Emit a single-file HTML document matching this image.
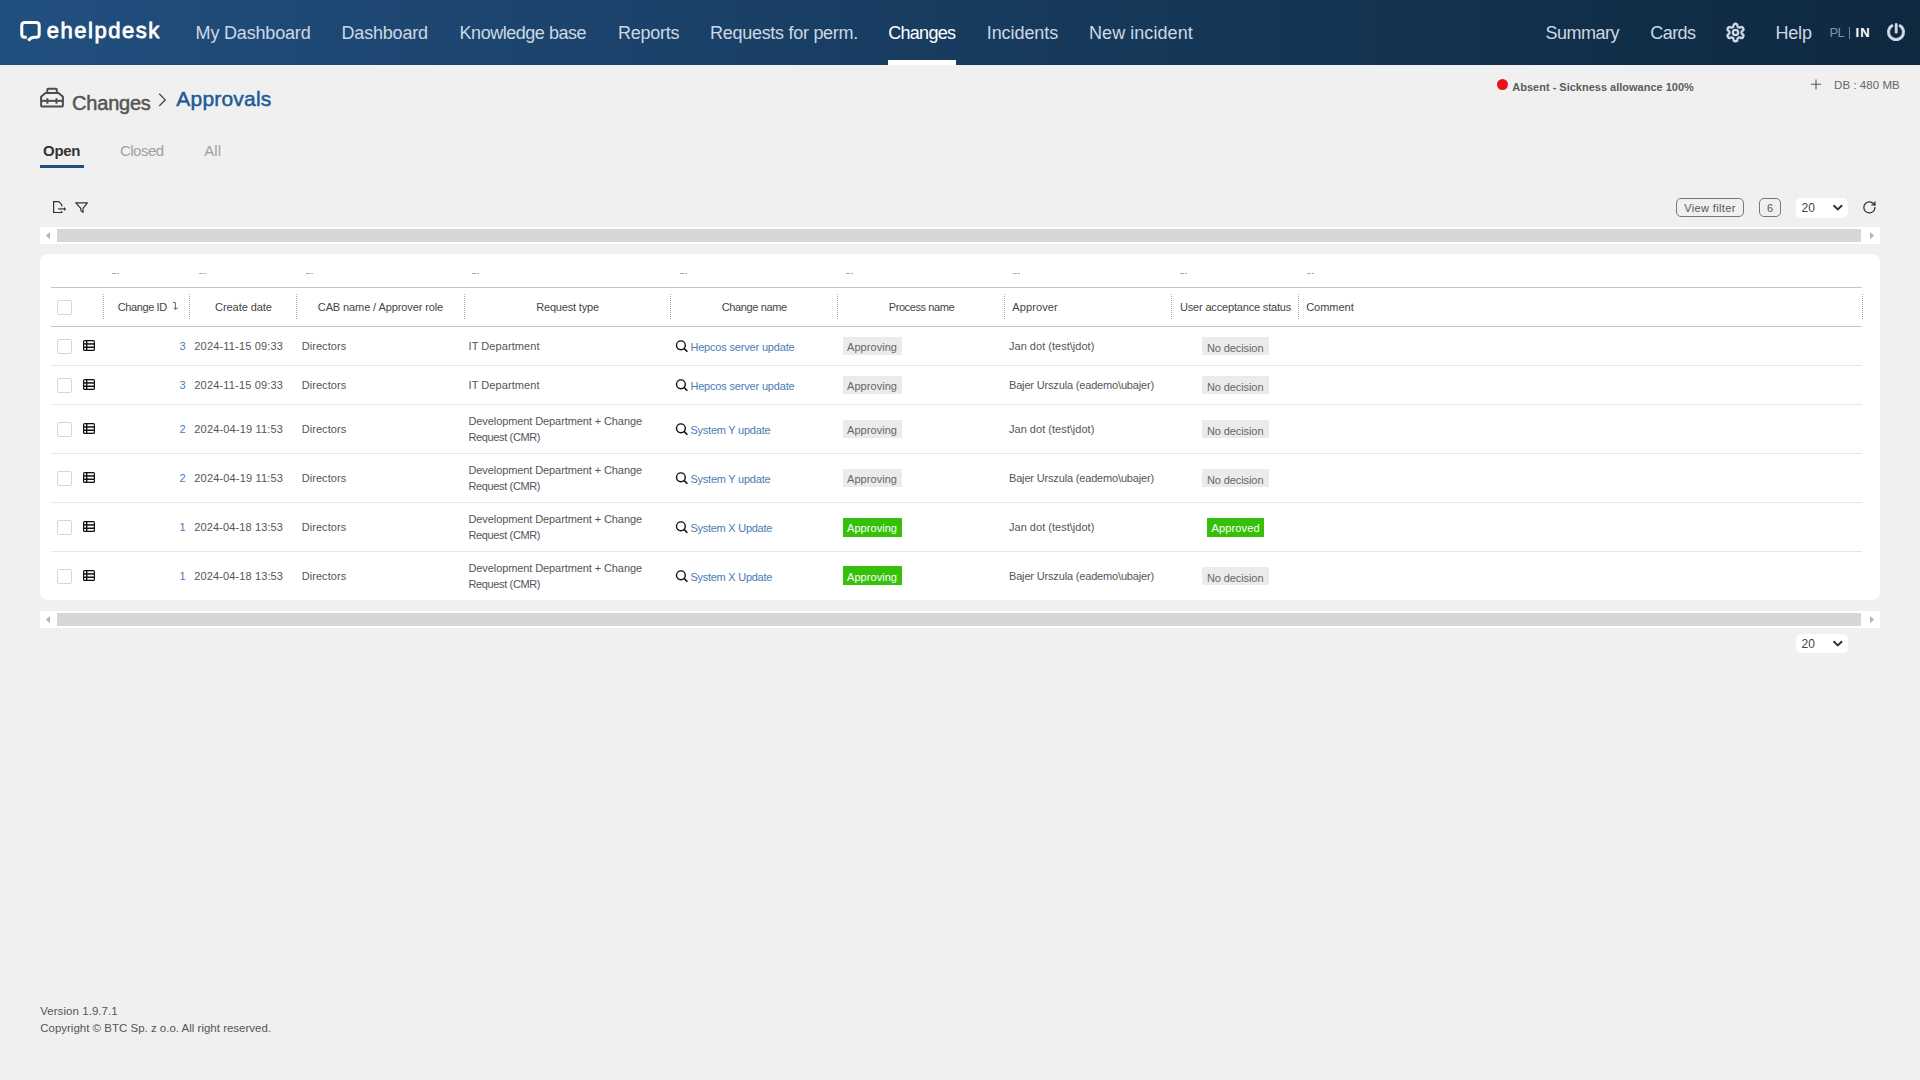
<!DOCTYPE html>
<html><head><meta charset="utf-8"><title>Changes - Approvals</title>
<style>
html,body{margin:0;padding:0;}
body{width:1920px;height:1080px;background:#f0f0f0;position:relative;overflow:hidden;font-family:"Liberation Sans",sans-serif;}
.t{position:absolute;line-height:1;white-space:nowrap;}
.b{position:absolute;display:block;}
</style></head><body>
<div class="b" style="left:0px;top:0px;width:1920px;height:65px;background:linear-gradient(90deg,#214f7f 0%,#0e283f 100%);"></div>
<svg class="b" style="left:16px;top:16px;" width="30" height="30" viewBox="0 0 30 30"><path d="M10.8,21.25 H8.75 Q5.75,21.25 5.75,18.25 V9.5 Q5.75,6.5 8.75,6.5 H20.2 Q23.2,6.5 23.2,9.5 V18.25 Q23.2,21.25 20.2,21.25 H18 Q14.8,21.4 12.3,24.6" fill="none" stroke="#fff" stroke-width="3"/></svg>
<div class="t" style="left:46.80px;top:20.00px;font-size:22px;color:#fff;letter-spacing:1.534px;-webkit-text-stroke:0.8px #fff;">ehelpdesk</div>
<div class="t" style="left:195.60px;top:24.00px;font-size:18px;color:#cdd8e4;letter-spacing:-0.181px;">My Dashboard</div>
<div class="t" style="left:341.50px;top:24.00px;font-size:18px;color:#cdd8e4;letter-spacing:-0.190px;">Dashboard</div>
<div class="t" style="left:459.60px;top:24.00px;font-size:18px;color:#cdd8e4;letter-spacing:-0.478px;">Knowledge base</div>
<div class="t" style="left:618.00px;top:24.00px;font-size:18px;color:#cdd8e4;letter-spacing:-0.267px;">Reports</div>
<div class="t" style="left:710.00px;top:24.00px;font-size:18px;color:#cdd8e4;letter-spacing:-0.282px;">Requests for perm.</div>
<div class="t" style="left:888.30px;top:24.00px;font-size:18px;color:#ffffff;letter-spacing:-0.732px;">Changes</div>
<div class="t" style="left:986.70px;top:24.00px;font-size:18px;color:#cdd8e4;letter-spacing:-0.061px;">Incidents</div>
<div class="t" style="left:1089.00px;top:24.00px;font-size:18px;color:#cdd8e4;letter-spacing:0.059px;">New incident</div>
<div class="t" style="left:1545.60px;top:24.00px;font-size:18px;color:#cdd8e4;letter-spacing:-0.507px;">Summary</div>
<div class="t" style="left:1650.30px;top:24.00px;font-size:18px;color:#cdd8e4;letter-spacing:-0.565px;">Cards</div>
<div class="t" style="left:1775.40px;top:24.00px;font-size:18px;color:#cdd8e4;letter-spacing:-0.163px;">Help</div>
<div class="b" style="left:888px;top:60px;width:68px;height:5px;background:#fff;"></div>
<svg class="b" style="left:1725px;top:21.7px;" width="21" height="21" viewBox="0 0 24 24"><path d="M12.22 2h-.44a2 2 0 0 0-2 2v.18a2 2 0 0 1-1 1.73l-.43.25a2 2 0 0 1-2 0l-.15-.08a2 2 0 0 0-2.73.73l-.22.38a2 2 0 0 0 .73 2.73l.15.1a2 2 0 0 1 1 1.72v.51a2 2 0 0 1-1 1.74l-.15.09a2 2 0 0 0-.73 2.73l.22.38a2 2 0 0 0 2.73.73l.15-.08a2 2 0 0 1 2 0l.43.25a2 2 0 0 1 1 1.73V20a2 2 0 0 0 2 2h.44a2 2 0 0 0 2-2v-.18a2 2 0 0 1 1-1.73l.43-.25a2 2 0 0 1 2 0l.15.08a2 2 0 0 0 2.73-.73l.22-.39a2 2 0 0 0-.73-2.73l-.15-.08a2 2 0 0 1-1-1.74v-.5a2 2 0 0 1 1-1.74l.15-.09a2 2 0 0 0 .73-2.73l-.22-.38a2 2 0 0 0-2.73-.73l-.15.08a2 2 0 0 1-2 0l-.43-.25a2 2 0 0 1-1-1.73V4a2 2 0 0 0-2-2z" fill="none" stroke="#cdd8e4" stroke-width="2.7"/><circle cx="12" cy="12" r="3" fill="none" stroke="#cdd8e4" stroke-width="2.7"/></svg>
<div class="t" style="left:1829.60px;top:26.00px;font-size:13px;color:#7f93a8;letter-spacing:-0.825px;">PL</div>
<div class="b" style="left:1849.2px;top:26.5px;width:1.3px;height:12.5px;background:#71869c;"></div>
<div class="t" style="left:1855.60px;top:26.00px;font-size:13px;color:#ffffff;font-weight:700;letter-spacing:1.100px;">IN</div>
<svg class="b" style="left:1885px;top:21px;" width="22" height="22" viewBox="0 0 22 22"><path d="M6.92,4.81 A7.5,7.5 0 1 0 15.08,4.81" fill="none" stroke="#cdd8e4" stroke-width="3" stroke-linecap="round"/><path d="M11.2,3.5 V11.2" stroke="#cdd8e4" stroke-width="2.8" stroke-linecap="round"/></svg>
<svg class="b" style="left:40px;top:87px;" width="24" height="21" viewBox="0 0 24 21"><g fill="none" stroke="#4d4d4d" stroke-width="2"><path d="M7.3,6 V2.7 Q7.3,1.7 8.3,1.7 H15.8 Q16.8,1.7 16.8,2.7 V6"/><path d="M5.5,6.1 H18.5 L22.9,9.7 V18 Q22.9,19.6 21.3,19.6 H2.7 Q1.1,19.6 1.1,18 V9.7 Z"/><path d="M1.1,13.85 H22.9"/><path d="M7.4,11.3 V16.7 M16.5,11.3 V16.7"/></g></svg>
<div class="t" style="left:72.10px;top:93.00px;font-size:20px;color:#555555;letter-spacing:-0.217px;-webkit-text-stroke:0.5px #555555;">Changes</div>
<svg class="b" style="left:156px;top:92px;" width="12" height="16" viewBox="0 0 12 16"><path d="M3.2,1.8 L9.2,7.9 L3.2,14" fill="none" stroke="#444" stroke-width="1.3"/></svg>
<div class="t" style="left:176.30px;top:88.00px;font-size:21px;color:#215a96;letter-spacing:0.207px;-webkit-text-stroke:0.5px #215a96;">Approvals</div>
<div class="b" style="left:1497px;top:79px;width:11px;height:11px;background:#e8141c;border-radius:50%;"></div>
<div class="t" style="left:1512.30px;top:82.00px;font-size:11px;color:#5c5c5c;font-weight:700;">Absent - Sickness allowance 100%</div>
<svg class="b" style="left:1810px;top:79px;" width="12" height="11" viewBox="0 0 12 11"><path d="M6,0.5 V10.5 M1,5.2 H11" stroke="#555" stroke-width="1.1"/></svg>
<div class="t" style="left:1834.10px;top:80.00px;font-size:11.5px;color:#666666;letter-spacing:0.039px;">DB : 480 MB</div>
<div class="t" style="left:43.10px;top:143.00px;font-size:15px;color:#333333;font-weight:700;letter-spacing:-0.375px;">Open</div>
<div class="b" style="left:40px;top:165px;width:44px;height:3px;background:#1f4e80;"></div>
<div class="t" style="left:119.90px;top:143.00px;font-size:15px;color:#a0a0a0;letter-spacing:-0.485px;">Closed</div>
<div class="t" style="left:204.30px;top:143.00px;font-size:15px;color:#a0a0a0;letter-spacing:0.025px;">All</div>
<svg class="b" style="left:50px;top:199px;" width="20" height="17" viewBox="0 0 20 17"><g fill="none" stroke="#333" stroke-width="1.2"><path d="M11.75,7.5 V5.7 L8.8,2.7 H3.6 V13.5 H11.75 V11.9"/><path d="M8.1,9.9 H14.5"/></g><path d="M14,7.9 L16.1,9.9 L14,11.9 Z" fill="#333"/></svg>
<svg class="b" style="left:74px;top:200px;" width="16" height="15" viewBox="0 0 16 15"><path d="M1.8,2.8 H13.4 L9,8.3 V12.4 L6.8,10.6 V8.3 Z" fill="none" stroke="#333" stroke-width="1.2" stroke-linejoin="round"/></svg>
<div class="b" style="left:1676px;top:198px;width:68px;height:19px;border:1px solid #777;border-radius:5px;box-sizing:border-box;"></div>
<div class="t" style="left:1684.30px;top:203.00px;font-size:11px;color:#555555;letter-spacing:0.353px;">View filter</div>
<div class="b" style="left:1759px;top:198px;width:22px;height:19px;border:1px solid #777;border-radius:5px;box-sizing:border-box;"></div>
<div class="t" style="left:1767.00px;top:203.00px;font-size:11px;color:#555555;">6</div>
<div class="b" style="left:1796px;top:198px;width:52px;height:19.5px;background:#fff;border-radius:5px;"></div>
<div class="t" style="left:1801.60px;top:202.00px;font-size:12px;color:#444444;">20</div>
<svg class="b" style="left:1832px;top:204px;" width="12" height="7" viewBox="0 0 12 7"><path d="M1.5,1.3 L5.8,5.4 L10.1,1.3" fill="none" stroke="#333" stroke-width="2"/></svg>
<svg class="b" style="left:1861.8px;top:200px;" width="14.8" height="14.8" viewBox="0 0 24 24"><g fill="none" stroke="#333" stroke-width="2" stroke-linecap="round" stroke-linejoin="round"><path d="M21 12a9 9 0 1 1-9-9c2.52 0 4.93 1 6.74 2.74L21 8"/><path d="M21 3v5h-5"/></g></svg>
<div class="b" style="left:40px;top:227px;width:1840px;height:17px;background:#fff;"></div>
<div class="b" style="left:57px;top:229px;width:1804px;height:13px;background:#d6d6d6;"></div>
<svg class="b" style="left:44px;top:231px;" width="8" height="9" viewBox="0 0 8 9"><path d="M6,1 L2,4.5 L6,8 Z" fill="#b3b3b3"/></svg>
<svg class="b" style="left:1868px;top:231px;" width="8" height="9" viewBox="0 0 8 9"><path d="M2,1 L6,4.5 L2,8 Z" fill="#b3b3b3"/></svg>
<div class="b" style="left:40px;top:611px;width:1840px;height:17px;background:#fff;"></div>
<div class="b" style="left:57px;top:613px;width:1804px;height:13px;background:#d6d6d6;"></div>
<svg class="b" style="left:44px;top:615px;" width="8" height="9" viewBox="0 0 8 9"><path d="M6,1 L2,4.5 L6,8 Z" fill="#b3b3b3"/></svg>
<svg class="b" style="left:1868px;top:615px;" width="8" height="9" viewBox="0 0 8 9"><path d="M2,1 L6,4.5 L2,8 Z" fill="#b3b3b3"/></svg>
<div class="b" style="left:1796px;top:633.5px;width:52px;height:19.5px;background:#fff;border-radius:5px;"></div>
<div class="t" style="left:1801.60px;top:638.00px;font-size:12px;color:#444444;">20</div>
<svg class="b" style="left:1832px;top:639.5px;" width="12" height="7" viewBox="0 0 12 7"><path d="M1.5,1.3 L5.8,5.4 L10.1,1.3" fill="none" stroke="#333" stroke-width="2"/></svg>
<div class="b" style="left:40px;top:254px;width:1840px;height:346px;background:#fff;border-radius:8px;"></div>
<div class="b" style="left:112px;top:273px;width:7px;height:1px;background:linear-gradient(90deg,#aaa 0 4px,transparent 4px 5px,#aaa 5px 7px);"></div>
<div class="b" style="left:199px;top:273px;width:7px;height:1px;background:linear-gradient(90deg,#aaa 0 4px,transparent 4px 5px,#aaa 5px 7px);"></div>
<div class="b" style="left:306px;top:273px;width:7px;height:1px;background:linear-gradient(90deg,#aaa 0 4px,transparent 4px 5px,#aaa 5px 7px);"></div>
<div class="b" style="left:472px;top:273px;width:7px;height:1px;background:linear-gradient(90deg,#aaa 0 4px,transparent 4px 5px,#aaa 5px 7px);"></div>
<div class="b" style="left:680px;top:273px;width:7px;height:1px;background:linear-gradient(90deg,#aaa 0 4px,transparent 4px 5px,#aaa 5px 7px);"></div>
<div class="b" style="left:846px;top:273px;width:7px;height:1px;background:linear-gradient(90deg,#aaa 0 4px,transparent 4px 5px,#aaa 5px 7px);"></div>
<div class="b" style="left:1013px;top:273px;width:7px;height:1px;background:linear-gradient(90deg,#aaa 0 4px,transparent 4px 5px,#aaa 5px 7px);"></div>
<div class="b" style="left:1180px;top:273px;width:7px;height:1px;background:linear-gradient(90deg,#aaa 0 4px,transparent 4px 5px,#aaa 5px 7px);"></div>
<div class="b" style="left:1307px;top:273px;width:7px;height:1px;background:linear-gradient(90deg,#aaa 0 4px,transparent 4px 5px,#aaa 5px 7px);"></div>
<div class="b" style="left:51px;top:287px;width:1811px;height:1px;background:#c4c4c4;"></div>
<div class="b" style="left:51px;top:326px;width:1811px;height:1px;background:#c4c4c4;"></div>
<div class="b" style="left:103px;top:294px;width:1px;height:26px;background:repeating-linear-gradient(180deg,#a8a8a8 0 1px,transparent 1px 2px);"></div>
<div class="b" style="left:189px;top:294px;width:1px;height:26px;background:repeating-linear-gradient(180deg,#a8a8a8 0 1px,transparent 1px 2px);"></div>
<div class="b" style="left:296px;top:294px;width:1px;height:26px;background:repeating-linear-gradient(180deg,#a8a8a8 0 1px,transparent 1px 2px);"></div>
<div class="b" style="left:464px;top:294px;width:1px;height:26px;background:repeating-linear-gradient(180deg,#a8a8a8 0 1px,transparent 1px 2px);"></div>
<div class="b" style="left:670px;top:294px;width:1px;height:26px;background:repeating-linear-gradient(180deg,#a8a8a8 0 1px,transparent 1px 2px);"></div>
<div class="b" style="left:837px;top:294px;width:1px;height:26px;background:repeating-linear-gradient(180deg,#a8a8a8 0 1px,transparent 1px 2px);"></div>
<div class="b" style="left:1004px;top:294px;width:1px;height:26px;background:repeating-linear-gradient(180deg,#a8a8a8 0 1px,transparent 1px 2px);"></div>
<div class="b" style="left:1171px;top:294px;width:1px;height:26px;background:repeating-linear-gradient(180deg,#a8a8a8 0 1px,transparent 1px 2px);"></div>
<div class="b" style="left:1298px;top:294px;width:1px;height:26px;background:repeating-linear-gradient(180deg,#a8a8a8 0 1px,transparent 1px 2px);"></div>
<div class="b" style="left:1862px;top:294px;width:1px;height:26px;background:repeating-linear-gradient(180deg,#a8a8a8 0 1px,transparent 1px 2px);"></div>
<div class="b" style="left:57px;top:299.5px;width:15px;height:15px;border:1px solid #d6d6d6;border-radius:2px;box-sizing:border-box;background:#fff;"></div>
<div class="t" style="left:117.80px;top:302.00px;font-size:11px;color:#444444;letter-spacing:-0.397px;">Change ID</div>
<svg class="b" style="left:171px;top:301px;" width="9" height="10" viewBox="0 0 9 10"><path d="M2,1.5 H4.4 V8.3 M2.8,6.5 L4.4,8.5 L6.9,6.5" fill="none" stroke="#666" stroke-width="1"/></svg>
<div class="t" style="left:215.10px;top:302.00px;font-size:11px;color:#444444;letter-spacing:-0.068px;">Create date</div>
<div class="t" style="left:317.80px;top:302.00px;font-size:11px;color:#444444;letter-spacing:-0.103px;">CAB name / Approver role</div>
<div class="t" style="left:536.20px;top:302.00px;font-size:11px;color:#444444;letter-spacing:-0.168px;">Request type</div>
<div class="t" style="left:721.80px;top:302.00px;font-size:11px;color:#444444;letter-spacing:-0.368px;">Change name</div>
<div class="t" style="left:888.70px;top:302.00px;font-size:11px;color:#444444;letter-spacing:-0.399px;">Process name</div>
<div class="t" style="left:1012.20px;top:302.00px;font-size:11px;color:#444444;letter-spacing:0.134px;">Approver</div>
<div class="t" style="left:1180.00px;top:302.00px;font-size:11px;color:#444444;letter-spacing:-0.174px;">User acceptance status</div>
<div class="t" style="left:1306.20px;top:302.00px;font-size:11px;color:#444444;letter-spacing:-0.014px;">Comment</div>
<div class="b" style="left:51px;top:365px;width:1811px;height:1px;background:#e6e6e6;"></div>
<div class="b" style="left:57px;top:339px;width:15px;height:15px;border:1px solid #d6d6d6;border-radius:2px;box-sizing:border-box;background:#fff;"></div>
<svg class="b" style="left:83px;top:340px;" width="12" height="11" viewBox="0 0 12 11"><rect x="0" y="0" width="12" height="11" rx="1.6" fill="#111"/><g fill="#fff"><rect x="1.2" y="1.3" width="1.8" height="1.9"/><rect x="4.4" y="1.3" width="6.4" height="1.9"/><rect x="1.2" y="4.7" width="1.8" height="1.8"/><rect x="4.4" y="4.7" width="6.4" height="1.8"/><rect x="1.2" y="8" width="1.8" height="1.7"/><rect x="4.4" y="8" width="6.4" height="1.7"/></g></svg>
<div class="t" style="left:179.50px;top:341.00px;font-size:11px;color:#4a7cb5;">3</div>
<div class="t" style="left:194.30px;top:341.00px;font-size:11px;color:#555555;letter-spacing:0.172px;">2024-11-15 09:33</div>
<div class="t" style="left:301.70px;top:341.00px;font-size:11px;color:#555555;letter-spacing:0.062px;">Directors</div>
<div class="t" style="left:468.50px;top:341.00px;font-size:11px;color:#555555;letter-spacing:0.073px;">IT Department</div>
<svg class="b" style="left:674px;top:339.2px;" width="16" height="16" viewBox="0 0 16 16"><circle cx="6.9" cy="6.3" r="4.4" fill="none" stroke="#111" stroke-width="1.4"/><path d="M10,9.4 L13.4,12.8" stroke="#111" stroke-width="1.6"/></svg>
<div class="t" style="left:690.40px;top:342.00px;font-size:11px;color:#4a7cb5;letter-spacing:-0.176px;">Hepcos server update</div>
<div class="b" style="left:843px;top:337px;width:59px;height:17.5px;background:#ebebeb;"></div>
<div class="t" style="left:847.00px;top:342.00px;font-size:11px;color:#666666;letter-spacing:0.056px;">Approving</div>
<div class="t" style="left:1009.00px;top:341.00px;font-size:11px;color:#555555;letter-spacing:0.018px;">Jan dot (test\jdot)</div>
<div class="b" style="left:1202px;top:337px;width:67px;height:17.5px;background:#ebebeb;"></div>
<div class="t" style="left:1207.00px;top:343.00px;font-size:11px;color:#666666;letter-spacing:-0.098px;">No decision</div>
<div class="b" style="left:51px;top:404px;width:1811px;height:1px;background:#e6e6e6;"></div>
<div class="b" style="left:57px;top:378px;width:15px;height:15px;border:1px solid #d6d6d6;border-radius:2px;box-sizing:border-box;background:#fff;"></div>
<svg class="b" style="left:83px;top:379px;" width="12" height="11" viewBox="0 0 12 11"><rect x="0" y="0" width="12" height="11" rx="1.6" fill="#111"/><g fill="#fff"><rect x="1.2" y="1.3" width="1.8" height="1.9"/><rect x="4.4" y="1.3" width="6.4" height="1.9"/><rect x="1.2" y="4.7" width="1.8" height="1.8"/><rect x="4.4" y="4.7" width="6.4" height="1.8"/><rect x="1.2" y="8" width="1.8" height="1.7"/><rect x="4.4" y="8" width="6.4" height="1.7"/></g></svg>
<div class="t" style="left:179.50px;top:380.00px;font-size:11px;color:#4a7cb5;">3</div>
<div class="t" style="left:194.30px;top:380.00px;font-size:11px;color:#555555;letter-spacing:0.172px;">2024-11-15 09:33</div>
<div class="t" style="left:301.70px;top:380.00px;font-size:11px;color:#555555;letter-spacing:0.062px;">Directors</div>
<div class="t" style="left:468.50px;top:380.00px;font-size:11px;color:#555555;letter-spacing:0.073px;">IT Department</div>
<svg class="b" style="left:674px;top:378.2px;" width="16" height="16" viewBox="0 0 16 16"><circle cx="6.9" cy="6.3" r="4.4" fill="none" stroke="#111" stroke-width="1.4"/><path d="M10,9.4 L13.4,12.8" stroke="#111" stroke-width="1.6"/></svg>
<div class="t" style="left:690.40px;top:381.00px;font-size:11px;color:#4a7cb5;letter-spacing:-0.176px;">Hepcos server update</div>
<div class="b" style="left:843px;top:376px;width:59px;height:17.5px;background:#ebebeb;"></div>
<div class="t" style="left:847.00px;top:381.00px;font-size:11px;color:#666666;letter-spacing:0.056px;">Approving</div>
<div class="t" style="left:1009.00px;top:380.00px;font-size:11px;color:#555555;letter-spacing:-0.165px;">Bajer Urszula (eademo\ubajer)</div>
<div class="b" style="left:1202px;top:376px;width:67px;height:17.5px;background:#ebebeb;"></div>
<div class="t" style="left:1207.00px;top:382.00px;font-size:11px;color:#666666;letter-spacing:-0.098px;">No decision</div>
<div class="b" style="left:51px;top:453px;width:1811px;height:1px;background:#e6e6e6;"></div>
<div class="b" style="left:57px;top:422px;width:15px;height:15px;border:1px solid #d6d6d6;border-radius:2px;box-sizing:border-box;background:#fff;"></div>
<svg class="b" style="left:83px;top:423px;" width="12" height="11" viewBox="0 0 12 11"><rect x="0" y="0" width="12" height="11" rx="1.6" fill="#111"/><g fill="#fff"><rect x="1.2" y="1.3" width="1.8" height="1.9"/><rect x="4.4" y="1.3" width="6.4" height="1.9"/><rect x="1.2" y="4.7" width="1.8" height="1.8"/><rect x="4.4" y="4.7" width="6.4" height="1.8"/><rect x="1.2" y="8" width="1.8" height="1.7"/><rect x="4.4" y="8" width="6.4" height="1.7"/></g></svg>
<div class="t" style="left:179.50px;top:424.00px;font-size:11px;color:#4a7cb5;">2</div>
<div class="t" style="left:194.30px;top:424.00px;font-size:11px;color:#555555;letter-spacing:0.172px;">2024-04-19 11:53</div>
<div class="t" style="left:301.70px;top:424.00px;font-size:11px;color:#555555;letter-spacing:0.062px;">Directors</div>
<div class="t" style="left:468.50px;top:416.00px;font-size:11px;color:#555555;letter-spacing:-0.095px;">Development Department + Change</div>
<div class="t" style="left:468.50px;top:432.00px;font-size:11px;color:#555555;letter-spacing:-0.366px;">Request (CMR)</div>
<svg class="b" style="left:674px;top:422.2px;" width="16" height="16" viewBox="0 0 16 16"><circle cx="6.9" cy="6.3" r="4.4" fill="none" stroke="#111" stroke-width="1.4"/><path d="M10,9.4 L13.4,12.8" stroke="#111" stroke-width="1.6"/></svg>
<div class="t" style="left:690.40px;top:425.00px;font-size:11px;color:#4a7cb5;letter-spacing:-0.227px;">System Y update</div>
<div class="b" style="left:843px;top:420px;width:59px;height:17.5px;background:#ebebeb;"></div>
<div class="t" style="left:847.00px;top:425.00px;font-size:11px;color:#666666;letter-spacing:0.056px;">Approving</div>
<div class="t" style="left:1009.00px;top:424.00px;font-size:11px;color:#555555;letter-spacing:0.018px;">Jan dot (test\jdot)</div>
<div class="b" style="left:1202px;top:420px;width:67px;height:17.5px;background:#ebebeb;"></div>
<div class="t" style="left:1207.00px;top:426.00px;font-size:11px;color:#666666;letter-spacing:-0.098px;">No decision</div>
<div class="b" style="left:51px;top:502px;width:1811px;height:1px;background:#e6e6e6;"></div>
<div class="b" style="left:57px;top:471px;width:15px;height:15px;border:1px solid #d6d6d6;border-radius:2px;box-sizing:border-box;background:#fff;"></div>
<svg class="b" style="left:83px;top:472px;" width="12" height="11" viewBox="0 0 12 11"><rect x="0" y="0" width="12" height="11" rx="1.6" fill="#111"/><g fill="#fff"><rect x="1.2" y="1.3" width="1.8" height="1.9"/><rect x="4.4" y="1.3" width="6.4" height="1.9"/><rect x="1.2" y="4.7" width="1.8" height="1.8"/><rect x="4.4" y="4.7" width="6.4" height="1.8"/><rect x="1.2" y="8" width="1.8" height="1.7"/><rect x="4.4" y="8" width="6.4" height="1.7"/></g></svg>
<div class="t" style="left:179.50px;top:473.00px;font-size:11px;color:#4a7cb5;">2</div>
<div class="t" style="left:194.30px;top:473.00px;font-size:11px;color:#555555;letter-spacing:0.172px;">2024-04-19 11:53</div>
<div class="t" style="left:301.70px;top:473.00px;font-size:11px;color:#555555;letter-spacing:0.062px;">Directors</div>
<div class="t" style="left:468.50px;top:465.00px;font-size:11px;color:#555555;letter-spacing:-0.095px;">Development Department + Change</div>
<div class="t" style="left:468.50px;top:481.00px;font-size:11px;color:#555555;letter-spacing:-0.366px;">Request (CMR)</div>
<svg class="b" style="left:674px;top:471.2px;" width="16" height="16" viewBox="0 0 16 16"><circle cx="6.9" cy="6.3" r="4.4" fill="none" stroke="#111" stroke-width="1.4"/><path d="M10,9.4 L13.4,12.8" stroke="#111" stroke-width="1.6"/></svg>
<div class="t" style="left:690.40px;top:474.00px;font-size:11px;color:#4a7cb5;letter-spacing:-0.227px;">System Y update</div>
<div class="b" style="left:843px;top:469px;width:59px;height:17.5px;background:#ebebeb;"></div>
<div class="t" style="left:847.00px;top:474.00px;font-size:11px;color:#666666;letter-spacing:0.056px;">Approving</div>
<div class="t" style="left:1009.00px;top:473.00px;font-size:11px;color:#555555;letter-spacing:-0.165px;">Bajer Urszula (eademo\ubajer)</div>
<div class="b" style="left:1202px;top:469px;width:67px;height:17.5px;background:#ebebeb;"></div>
<div class="t" style="left:1207.00px;top:475.00px;font-size:11px;color:#666666;letter-spacing:-0.098px;">No decision</div>
<div class="b" style="left:51px;top:551px;width:1811px;height:1px;background:#e6e6e6;"></div>
<div class="b" style="left:57px;top:520px;width:15px;height:15px;border:1px solid #d6d6d6;border-radius:2px;box-sizing:border-box;background:#fff;"></div>
<svg class="b" style="left:83px;top:521px;" width="12" height="11" viewBox="0 0 12 11"><rect x="0" y="0" width="12" height="11" rx="1.6" fill="#111"/><g fill="#fff"><rect x="1.2" y="1.3" width="1.8" height="1.9"/><rect x="4.4" y="1.3" width="6.4" height="1.9"/><rect x="1.2" y="4.7" width="1.8" height="1.8"/><rect x="4.4" y="4.7" width="6.4" height="1.8"/><rect x="1.2" y="8" width="1.8" height="1.7"/><rect x="4.4" y="8" width="6.4" height="1.7"/></g></svg>
<div class="t" style="left:179.50px;top:522.00px;font-size:11px;color:#4a7cb5;">1</div>
<div class="t" style="left:194.30px;top:522.00px;font-size:11px;color:#555555;letter-spacing:0.117px;">2024-04-18 13:53</div>
<div class="t" style="left:301.70px;top:522.00px;font-size:11px;color:#555555;letter-spacing:0.062px;">Directors</div>
<div class="t" style="left:468.50px;top:514.00px;font-size:11px;color:#555555;letter-spacing:-0.095px;">Development Department + Change</div>
<div class="t" style="left:468.50px;top:530.00px;font-size:11px;color:#555555;letter-spacing:-0.366px;">Request (CMR)</div>
<svg class="b" style="left:674px;top:520.2px;" width="16" height="16" viewBox="0 0 16 16"><circle cx="6.9" cy="6.3" r="4.4" fill="none" stroke="#111" stroke-width="1.4"/><path d="M10,9.4 L13.4,12.8" stroke="#111" stroke-width="1.6"/></svg>
<div class="t" style="left:690.40px;top:523.00px;font-size:11px;color:#4a7cb5;letter-spacing:-0.256px;">System X Update</div>
<div class="b" style="left:843px;top:518px;width:59px;height:18.5px;background:#35c10a;"></div>
<div class="t" style="left:847.00px;top:523.00px;font-size:11px;color:#ffffff;letter-spacing:0.056px;">Approving</div>
<div class="t" style="left:1009.00px;top:522.00px;font-size:11px;color:#555555;letter-spacing:0.018px;">Jan dot (test\jdot)</div>
<div class="b" style="left:1207px;top:518px;width:57px;height:18.5px;background:#35c10a;"></div>
<div class="t" style="left:1211.50px;top:523.00px;font-size:11px;color:#ffffff;letter-spacing:0.131px;">Approved</div>
<div class="b" style="left:57px;top:569px;width:15px;height:15px;border:1px solid #d6d6d6;border-radius:2px;box-sizing:border-box;background:#fff;"></div>
<svg class="b" style="left:83px;top:570px;" width="12" height="11" viewBox="0 0 12 11"><rect x="0" y="0" width="12" height="11" rx="1.6" fill="#111"/><g fill="#fff"><rect x="1.2" y="1.3" width="1.8" height="1.9"/><rect x="4.4" y="1.3" width="6.4" height="1.9"/><rect x="1.2" y="4.7" width="1.8" height="1.8"/><rect x="4.4" y="4.7" width="6.4" height="1.8"/><rect x="1.2" y="8" width="1.8" height="1.7"/><rect x="4.4" y="8" width="6.4" height="1.7"/></g></svg>
<div class="t" style="left:179.50px;top:571.00px;font-size:11px;color:#4a7cb5;">1</div>
<div class="t" style="left:194.30px;top:571.00px;font-size:11px;color:#555555;letter-spacing:0.117px;">2024-04-18 13:53</div>
<div class="t" style="left:301.70px;top:571.00px;font-size:11px;color:#555555;letter-spacing:0.062px;">Directors</div>
<div class="t" style="left:468.50px;top:563.00px;font-size:11px;color:#555555;letter-spacing:-0.095px;">Development Department + Change</div>
<div class="t" style="left:468.50px;top:579.00px;font-size:11px;color:#555555;letter-spacing:-0.366px;">Request (CMR)</div>
<svg class="b" style="left:674px;top:569.2px;" width="16" height="16" viewBox="0 0 16 16"><circle cx="6.9" cy="6.3" r="4.4" fill="none" stroke="#111" stroke-width="1.4"/><path d="M10,9.4 L13.4,12.8" stroke="#111" stroke-width="1.6"/></svg>
<div class="t" style="left:690.40px;top:572.00px;font-size:11px;color:#4a7cb5;letter-spacing:-0.256px;">System X Update</div>
<div class="b" style="left:843px;top:566px;width:59px;height:18.5px;background:#35c10a;"></div>
<div class="t" style="left:847.00px;top:572.00px;font-size:11px;color:#ffffff;letter-spacing:0.056px;">Approving</div>
<div class="t" style="left:1009.00px;top:571.00px;font-size:11px;color:#555555;letter-spacing:-0.165px;">Bajer Urszula (eademo\ubajer)</div>
<div class="b" style="left:1202px;top:567px;width:67px;height:17.5px;background:#ebebeb;"></div>
<div class="t" style="left:1207.00px;top:573.00px;font-size:11px;color:#666666;letter-spacing:-0.098px;">No decision</div>
<div class="t" style="left:40.20px;top:1006.00px;font-size:11.5px;color:#555555;letter-spacing:0.057px;">Version 1.9.7.1</div>
<div class="t" style="left:40.20px;top:1023.00px;font-size:11.5px;color:#555555;">Copyright © BTC Sp. z o.o. All right reserved.</div>
</body></html>
